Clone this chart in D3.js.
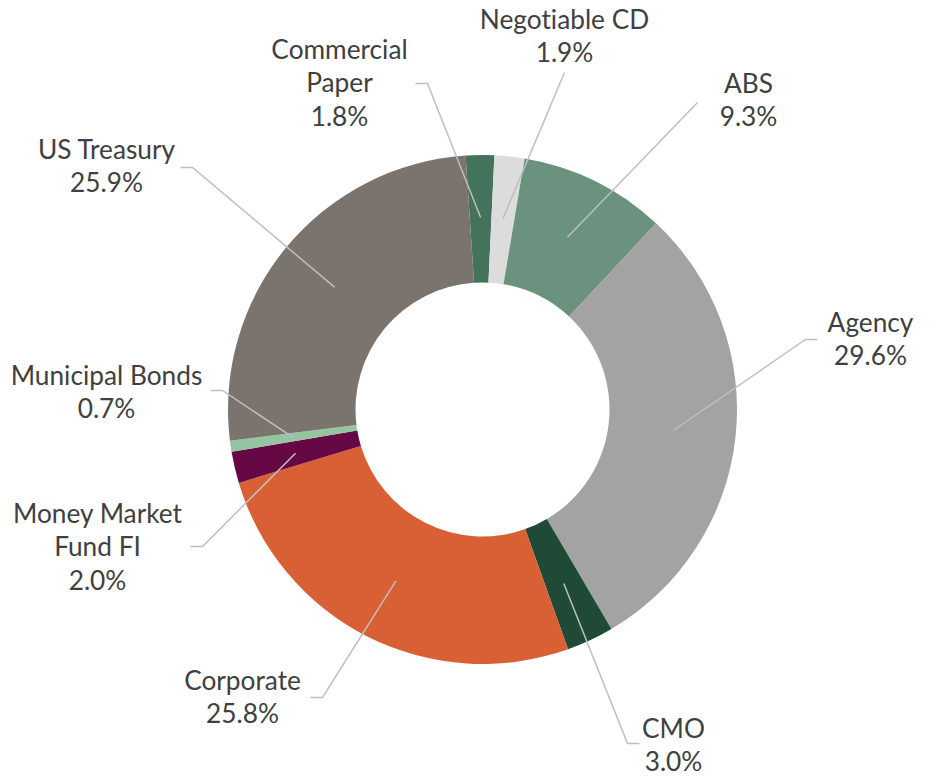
<!DOCTYPE html>
<html>
<head>
<meta charset="utf-8">
<script src="https://cdn.jsdelivr.net/npm/d3@7"></script>
<style>
  html, body { margin: 0; padding: 0; background: #fff; }
  svg text { font-family: Lato, "Noto Sans", sans-serif; fill: #404040;
             font-variant-ligatures: none; font-feature-settings: "liga" 0, "clig" 0; }
</style>
</head>
<body>
<svg id="chart" width="936" height="777"></svg>
<script>
// portfolio mix, clockwise from the top
var categories = ["Commercial Paper", "Negotiable CD", "ABS", "Agency", "CMO",
                  "Corporate", "Money Market Fund FI", "Municipal Bonds", "US Treasury"]
  , shares     = [1.8, 1.9, 9.3, 29.6, 3.0, 25.8, 2.0, 0.7, 25.9]
  , colors     = ["#44735b", "#dcdcdc", "#6a927e", "#a3a3a3", "#1f4a35",
                  "#d95f35", "#650843", "#93c5a0", "#7b736e"]
  ;

// where the labels sit (offset from the donut centre) and where the leader bends
var labelAt = [[-143, -351], [82, -381], [266, -317], [388, -78], [191, 328],
               [-240, 280], [-385, 113], [-376, -25], [-376, -251]]
  , elbowAt = [[-55, -326], [82, -337], [215, -307], [323, -70], [145, 334],
               [-160, 288], [-280, 137], [-260, -19], [-290, -242]]
  , elbowDir = [-1, 0, 0, 1, 1, -1, -1, -1, -1]
  , wraps = { "Commercial Paper": ["Commercial", "Paper"],
              "Money Market Fund FI": ["Money Market", "Fund FI"] }
  ;

var cx = 482.5, cy = 409.5
  , outerR = 254.5, innerR = 127
  , startAngle = -3.8 * Math.PI / 180
  , lineGap = 33.5
  ;

var svg = d3.select("#chart")
  , g = svg.append("g").attr("transform", "translate(" + cx + "," + cy + ")")
  ;

var pie = d3.pie().sort(null).value(function (d) { return d.share; })
      .startAngle(startAngle).endAngle(startAngle + 2 * Math.PI)
  , arc = d3.arc().innerRadius(innerR).outerRadius(outerR)
  , mid = d3.arc().innerRadius(192).outerRadius(192)
  , rows = categories.map(function (c, i) { return { name: c, share: shares[i], i: i }; })
  , slices = pie(rows)
  ;

g.selectAll("path.slice").data(slices).enter().append("path")
  .attr("class", "slice")
  .attr("d", arc)
  .attr("fill", function (d) { return colors[d.data.i]; });

// fit the font so "Money Market" is as wide as in the reference
var probe = svg.append("text").attr("font-size", 100).text("Money Market")
  , fontSize = 100 * 169 / probe.node().getComputedTextLength()
  ;
probe.remove();

// leaders
g.selectAll("path.leader").data(slices).enter().append("path")
  .attr("class", "leader")
  .attr("fill", "none")
  .attr("stroke", "#bfbfbf")
  .attr("stroke-width", 1.5)
  .attr("d", function (d) {
    var i = d.data.i
      , p0 = mid.centroid(d)
      , e = elbowAt[i]
      , pts = [p0, e]
      ;
    if (elbowDir[i] !== 0) pts.push([e[0] + 12 * elbowDir[i], e[1]]);
    return d3.line()(pts);
  });

// labels
var labels = g.selectAll("text.lbl").data(slices).enter().append("text")
  .attr("class", "lbl")
  .attr("text-anchor", "middle")
  .attr("font-size", fontSize)
  .attr("transform", function (d) {
    var p = labelAt[d.data.i];
    return "translate(" + p[0] + "," + p[1] + ")";
  });

labels.each(function (d) {
  var lines = (wraps[d.data.name] || [d.data.name]).concat([d3.format(".1f")(d.data.share) + "%"])
    , t = d3.select(this)
    ;
  lines.forEach(function (s, k) {
    t.append("tspan").attr("x", 0).attr("y", k * lineGap).text(s);
  });
});
</script>
</body>
</html>
